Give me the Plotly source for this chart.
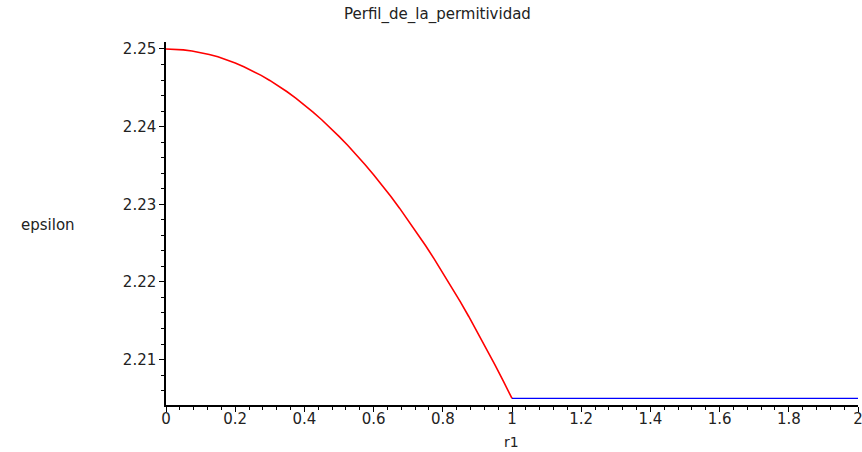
import plotly.graph_objects as go

# Permittivity profile: graded core (red) and constant cladding (blue)
r_core = [0.0, 0.025, 0.05, 0.075, 0.1, 0.125, 0.15, 0.175, 0.2, 0.225,
          0.25, 0.275, 0.3, 0.325, 0.35, 0.375, 0.4, 0.425, 0.45, 0.475,
          0.5, 0.525, 0.55, 0.575, 0.6, 0.625, 0.65, 0.675, 0.7, 0.725,
          0.75, 0.775, 0.8, 0.825, 0.85, 0.875, 0.9, 0.925, 0.95, 0.975, 1.0]
eps_core = [2.25000, 2.24997, 2.24989, 2.24975, 2.24955, 2.24930, 2.24899,
            2.24862, 2.24820, 2.24772, 2.24719, 2.24660, 2.24595, 2.24525,
            2.24449, 2.24367, 2.24280, 2.24187, 2.24089, 2.23985, 2.23875,
            2.23760, 2.23639, 2.23512, 2.23380, 2.23242, 2.23099, 2.22950,
            2.22795, 2.22635, 2.22469, 2.22297, 2.22120, 2.21937, 2.21749,
            2.21555, 2.21355, 2.21150, 2.20939, 2.20722, 2.20500]
r_clad = [1.0, 2.0]
eps_clad = [2.205, 2.205]

title_text = "Perfil_de_la_permitividad"
x_label = "r1"
y_label = "epsilon"

FONT = "DejaVu Sans"

fig = go.Figure()
fig.add_trace(go.Scatter(x=r_core, y=eps_core, mode="lines",
                         line=dict(color="#ff0000", width=1.6),
                         showlegend=False, hoverinfo="skip"))
fig.add_trace(go.Scatter(x=r_clad, y=eps_clad, mode="lines",
                         line=dict(color="#0000ff", width=1.4),
                         showlegend=False, hoverinfo="skip"))

axis_common = dict(
    showgrid=False, zeroline=False, showline=True, linecolor="black",
    linewidth=1.5, ticks="outside", ticklen=5, tickwidth=1.2,
    tickcolor="black", tickfont=dict(family=FONT, size=15, color="#222222"),
    automargin=False,
)

fig.update_xaxes(range=[0, 2.0], dtick=0.2, tick0=0,
                 ticklabelstandoff=-6, ticklabeloverflow="allow",
                 minor=dict(dtick=0.04, ticks="outside", ticklen=3,
                            tickwidth=1.2, tickcolor="black"),
                 **axis_common)
fig.update_yaxes(range=[2.20415, 2.2509], dtick=0.01, tick0=2.21,
                 tickformat=".2f",
                 minor=dict(dtick=0.002, ticks="outside", ticklen=3,
                            tickwidth=1.2, tickcolor="black"),
                 **axis_common)

fig.update_layout(
    width=862, height=452,
    margin=dict(l=166, r=4, t=42, b=47),
    paper_bgcolor="white", plot_bgcolor="white",
    annotations=[
        dict(text=title_text, xref="paper", yref="paper",
             x=(437 - 166) / 692, y=1 + (42 - 14) / 363,
             xanchor="center", yanchor="middle", showarrow=False,
             font=dict(family=FONT, size=15, color="#222222")),
        dict(text=y_label, xref="paper", yref="paper",
             x=(48 - 166) / 692, y=(405 - 225) / 363,
             xanchor="center", yanchor="middle", showarrow=False,
             font=dict(family=FONT, size=15, color="#222222")),
        dict(text=x_label, xref="paper", yref="paper",
             x=(511 - 166) / 692, y=-(442 - 405) / 363,
             xanchor="center", yanchor="middle", showarrow=False,
             font=dict(family=FONT, size=14, color="#222222")),
    ],
)

fig.write_html("out.html")
